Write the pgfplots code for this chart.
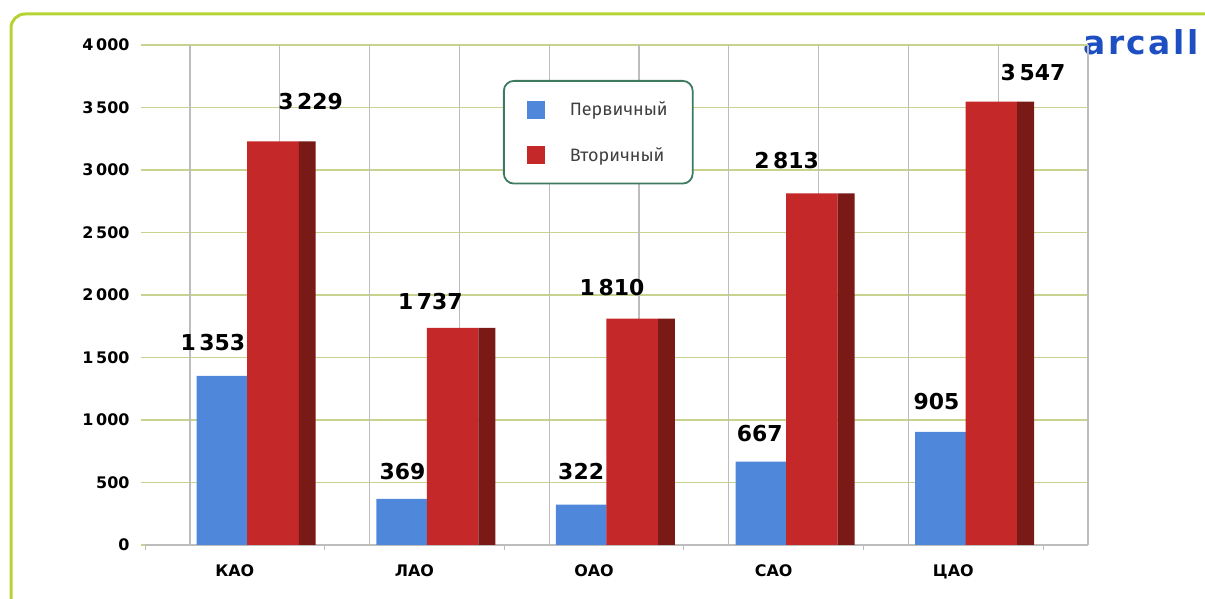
\documentclass[border=0pt]{standalone}
\usepackage{fontspec}
\setmainfont{Fira Sans}
\newfontfamily\numfont{DejaVu Sans}
\newfontfamily\logofont{DejaVu Sans}[LetterSpace=8.0]
\usepackage{pgfplots}
\usepackage{pgfplotstable}
\pgfplotsset{compat=1.18}
\definecolor{bblue}{HTML}{4F88DA}
\definecolor{bred}{HTML}{C42828}
\definecolor{bdark}{HTML}{7A1A17}
\definecolor{gridol}{HTML}{C9D28E}
\definecolor{gridgr}{HTML}{BDBDBD}
\definecolor{framec}{HTML}{B5D334}
\definecolor{legc}{HTML}{3E7A60}
\definecolor{legtext}{HTML}{404040}
\definecolor{logoc}{HTML}{1E4FC2}
\pgfplotstableread{
x prim sec
0 1353 3229
1 369 1737
2 322 1810
3 667 2813
4 905 3547
}\datatable
\begin{document}
\begin{tikzpicture}[x=1bp,y=1bp]
\useasboundingbox (0bp,0bp) rectangle (1205bp,599bp);
\begin{scope}
\clip (0bp,0bp) rectangle (1205bp,599bp);
\draw[framec, line width=3bp, rounded corners=14bp] (11bp,-30bp) -- (11bp,585bp) -- (1240bp,585bp);
\node[anchor=west, text=logoc, font=\fontsize{33}{35}\logofont\bfseries, inner sep=0pt] at (1083bp,557bp) {arcall};
\end{scope}
\begin{axis}[
  at={(145bp,54bp)}, anchor=south west,
  scale only axis, width=943bp, height=500bp,
  xmin=-0.5, xmax=4.75, ymin=0, ymax=4000,
  axis x line*=bottom, axis y line*=left,
  x axis line style={gridgr, line width=1.3bp, -},
  y axis line style={draw=none},
  xtick={0,1,2,3,4},
  xticklabels={КАО,ЛАО,ОАО,САО,ЦАО},
  major x tick style={draw=none},
  minor xtick={-0.5,0.5,1.5,2.5,3.5,4.5},
  minor x tick style={gridgr, line width=1bp},
  minor tick length=5bp,
  extra x ticks={-0.25,0.25,0.75,1.25,1.75,2.25,2.75,3.25,3.75,4.25,4.75},
  extra x tick labels={},
  extra x tick style={grid=major, major tick length=0pt},
  x grid style={gridgr, line width=1.3bp},
  ytick={0,500,...,4000},
  ymajorgrids,
  y grid style={gridol, line width=1.3bp},
  major y tick style={gridol, line width=1.2bp},
  major tick length=4bp,
  tick align=outside,
  /pgf/number format/assume math mode=true,
  /pgf/number format/1000 sep={\,},
  yticklabel style={font=\fontsize{16}{19}\numfont\bfseries, xshift=-8bp},
  xticklabel style={font=\fontsize{16}{19}\numfont\bfseries, yshift=-12bp},
  legend style={at={(rel axis cs:0.3796,0.93)}, anchor=north west, draw=legc, line width=1.8bp,
     rounded corners=10bp, fill=white, inner xsep=23bp, inner ysep=19bp, row sep=26bp,
     font=\fontsize{18}{21}\selectfont\color{legtext},
     /tikz/every odd column/.append style={column sep=23bp}},
  legend cell align=left,
  legend image code/.code={\fill[#1,draw=none,sharp corners] (0bp,-9bp) rectangle (18bp,9bp);},
]
\addplot[ybar, bar width=0.283, bar shift=-0.071, fill=bblue, draw=none] table[x=x,y=prim] {\datatable};
\addlegendentry{Первичный}
\addplot[ybar, bar width=0.287, bar shift=0.2125, fill=bred, draw=none] table[x=x,y=sec] {\datatable};
\addlegendentry{Вторичный}
\addplot[ybar, bar width=0.094, bar shift=0.403, fill=bdark, draw=none, forget plot] table[x=x,y=sec] {\datatable};
\addplot[draw=none, mark=none, forget plot, nodes near coords, point meta=explicit symbolic,
  every node near coord/.append style={anchor=center, inner sep=0pt, font=\fontsize{22}{24}\numfont\bfseries}]
  coordinates {(-0.122,1616) [1\,353] (0.933,584) [369] (1.928,584) [322] (2.922,888) [667] (3.906,1144) [905]
               (0.422,3544) [3\,229] (1.089,1944) [1\,737] (2.1,2056) [1\,810] (3.072,3072) [2\,813] (4.444,3776) [3\,547]};
\end{axis}
\end{tikzpicture}
\end{document}
